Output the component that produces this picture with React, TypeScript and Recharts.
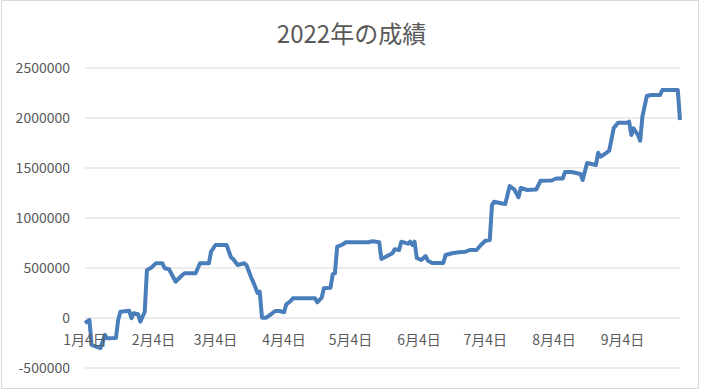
import { LineChart, Line, XAxis, YAxis, CartesianGrid } from 'recharts';

// days counted from 1/4, and the running total on that day
const dayOffsets = [
    0, 2, 3, 5, 7, 9, 10, 14, 15, 16, 20, 21, 22, 24, 25, 27, 28, 30, 32, 35,
    36, 38, 41, 44, 45, 50, 52, 56, 57, 59, 64, 66, 67, 69, 72, 73, 75, 77, 78, 79,
    80, 82, 84, 86, 88, 90, 91, 92, 93, 94, 104, 105, 107, 108, 111, 112, 113, 114, 116, 118,
    128, 130, 133, 134, 136, 139, 140, 142, 143, 146, 147, 148, 149, 150, 152, 154, 155, 157, 162, 163,
    166, 169, 172, 174, 177, 179, 181, 183, 184, 185, 188, 190, 192, 194, 196, 197, 200, 204, 206, 211,
    213, 216, 217, 220, 224, 225, 227, 228, 231, 232, 233, 235, 237, 239, 241, 245, 246, 247, 248, 250,
    251, 252, 254, 256, 260, 261, 268, 269,
];
const profits = [
    -50000, -20000, -270000, -287000, -300000, -170000, -203000, -200000, -20000, 63000,
    73000, -3000, 47000, 37000, -37000, 63000, 480000, 503000, 547000, 547000,
    497000, 487000, 363000, 430000, 447000, 447000, 547000, 547000, 663000, 730000,
    730000, 607000, 590000, 530000, 547000, 530000, 413000, 310000, 250000, 263000,
    3000, 3000, 37000, 70000, 70000, 57000, 137000, 153000, 170000, 197000,
    197000, 157000, 203000, 297000, 303000, 437000, 447000, 713000, 730000, 757000,
    757000, 767000, 757000, 590000, 613000, 647000, 687000, 680000, 763000, 743000,
    763000, 730000, 763000, 600000, 580000, 620000, 573000, 550000, 550000, 630000,
    647000, 657000, 663000, 680000, 680000, 730000, 773000, 780000, 1130000, 1163000,
    1147000, 1140000, 1320000, 1287000, 1207000, 1300000, 1280000, 1285000, 1373000, 1375000,
    1395000, 1395000, 1460000, 1460000, 1440000, 1380000, 1550000, 1545000, 1530000, 1653000,
    1613000, 1640000, 1673000, 1897000, 1953000, 1953000, 1963000, 1830000, 1897000, 1830000,
    1773000, 2013000, 2220000, 2230000, 2230000, 2280000, 2280000, 1980000,
];

const tickDays = [0, 31, 59, 90, 120, 151, 181, 212, 243];
const tickLabels = ['1月4日', '2月4日', '3月4日', '4月4日', '5月4日', '6月4日', '7月4日', '8月4日', '9月4日'];
const yTicks = [-500000, 0, 500000, 1000000, 1500000, 2000000, 2500000];

const FONT = '"Noto Sans CJK JP", "Noto Sans", sans-serif';

const data = dayOffsets.map((d, i) => ({ day: d, total: profits[i] }));

function DateTick({ x, y, payload }: any) {
    const label = tickLabels[tickDays.indexOf(payload.value)];
    return (
        <text x={x} y={y - 23} textAnchor="middle" fill="#595959" fontSize={14} fontFamily={FONT}>
            {label}
        </text>
    );
}

export default function App() {
    return (
        <div style={{ position: 'relative', width: 703, height: 389, background: '#fff', fontFamily: FONT }}>
            <style>{'body { margin: 0; }'}</style>
            <div style={{ position: 'absolute', left: 1, top: 0, width: 696, height: 387, border: '1px solid #d9d9d9' }} />
            <div
                style={{
                    position: 'absolute', left: 0, top: 21, width: 703, textAlign: 'center',
                    fontSize: 24, lineHeight: 1, color: '#595959',
                }}
            >
                2022年の成績
            </div>
            <LineChart
                width={703}
                height={389}
                data={data}
                margin={{ top: 68, right: 23, bottom: 0, left: 0 }}
                style={{ position: 'absolute', left: 0, top: 0 }}
            >
                <CartesianGrid horizontal vertical={false} stroke="#d9d9d9" strokeWidth={1} />
                <XAxis
                    dataKey="day"
                    type="number"
                    domain={[0, 269]}
                    ticks={tickDays}
                    axisLine={false}
                    tickLine={false}
                    tickSize={0}
                    tickMargin={0}
                    height={21}
                    tick={<DateTick />}
                    interval={0}
                />
                <YAxis
                    type="number"
                    domain={[-500000, 2500000]}
                    ticks={yTicks}
                    axisLine={false}
                    tickLine={false}
                    tickSize={0}
                    tickMargin={15}
                    width={85}
                    tick={{ fill: '#595959', fontSize: 14, fontFamily: FONT }}
                    interval={0}
                />
                <Line
                    type="linear"
                    dataKey="total"
                    stroke="#4a7ebb"
                    strokeWidth={4}
                    strokeLinejoin="round"
                    dot={false}
                    isAnimationActive={false}
                />
            </LineChart>
        </div>
    );
}
